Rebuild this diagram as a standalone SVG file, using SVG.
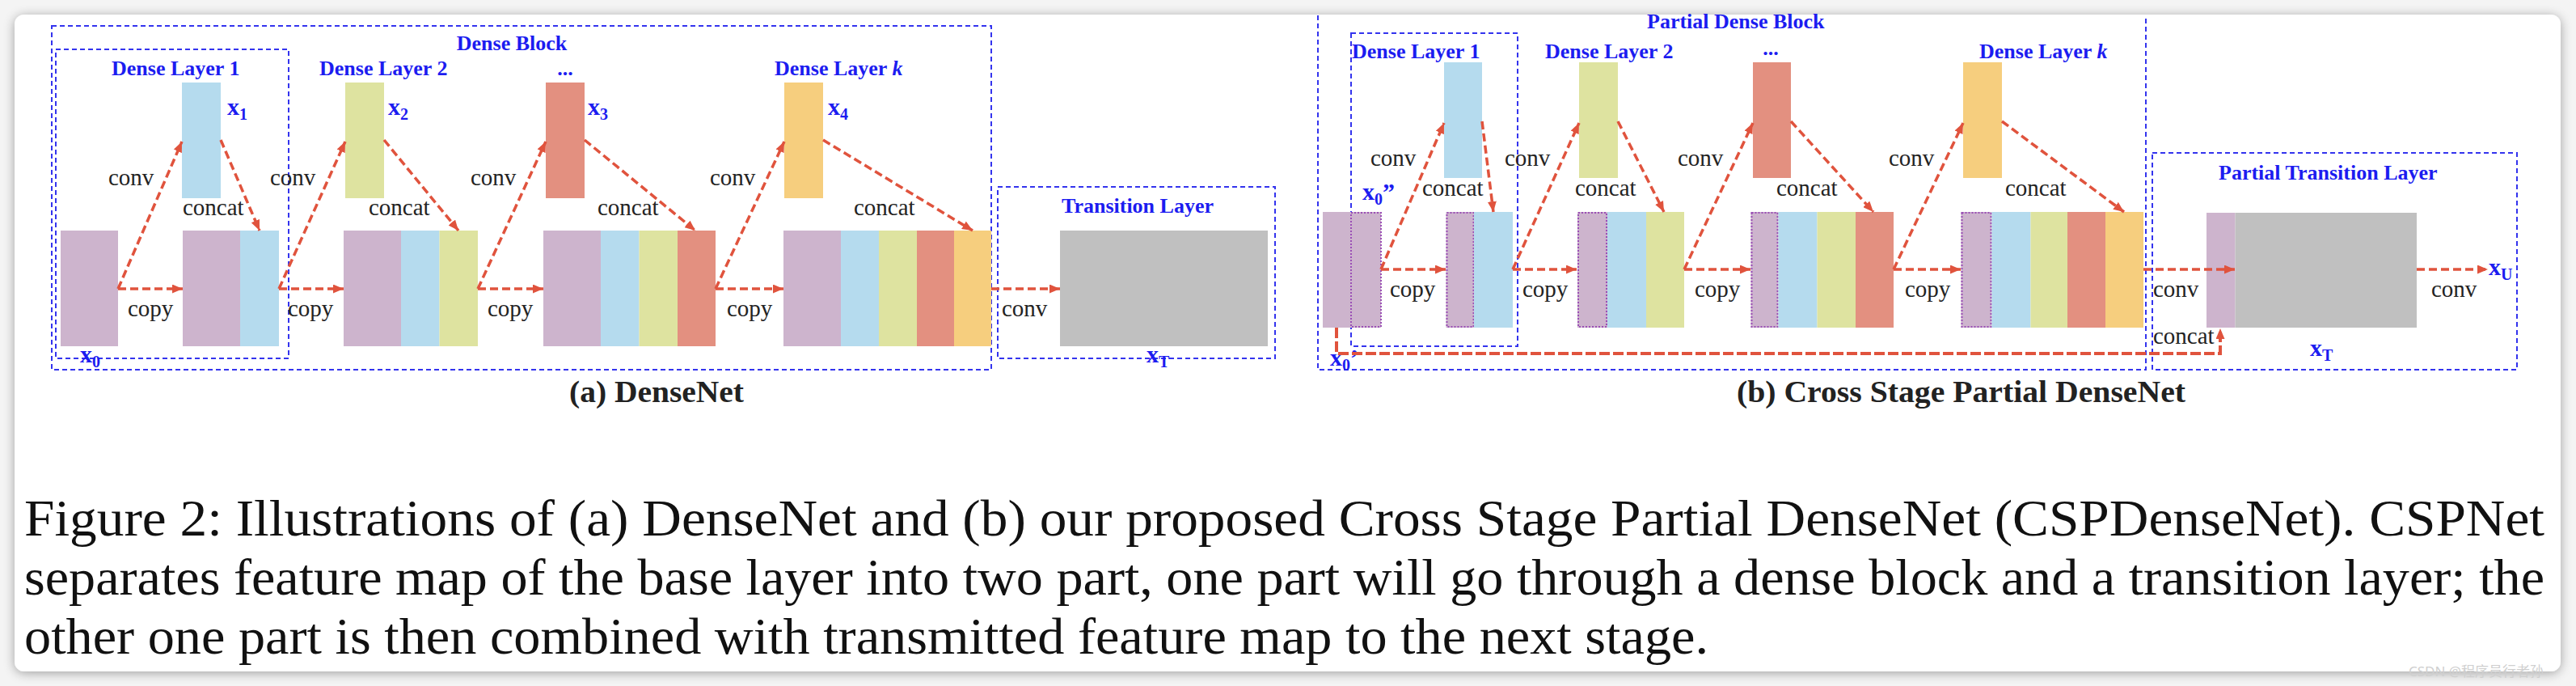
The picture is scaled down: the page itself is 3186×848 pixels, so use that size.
<svg xmlns="http://www.w3.org/2000/svg" width="3186" height="848" viewBox="0 0 3186 848">
<defs>
<style>
.t{font-family:"Liberation Serif",serif;fill:#232323;font-size:29px}
.l{font-family:"Liberation Serif",serif;font-weight:bold;fill:#1c1cf0;font-size:26px}
.v{font-family:"Liberation Serif",serif;font-weight:bold;fill:#1c1cf0;font-size:30px}
.s{font-size:20px}
.cap{font-family:"Liberation Serif",serif;font-weight:bold;fill:#222;font-size:37px}
.fig{font-family:"Liberation Serif",serif;fill:#111;font-size:64px}
.box{fill:none;stroke:#3434ee;stroke-width:2;stroke-dasharray:6 4}
.arr{fill:none;stroke:#e0533d;stroke-width:3.5;stroke-dasharray:10 5;marker-end:url(#ah)}
.arrb{fill:none;stroke:#e0533d;stroke-width:4;stroke-dasharray:13 4;marker-end:url(#ah)}
.pu{fill:#cdb4cd}.bl{fill:#b5dbee}.ye{fill:#dee3a0}.sa{fill:#e39080}.or{fill:#f6ce7e}.gr{fill:#c0c0c0}
.dot{fill:none;stroke:#9a4fb5;stroke-width:2;stroke-dasharray:2 2}
</style>
<marker id="ah" viewBox="0 0 13 11" refX="13" refY="5.5" markerWidth="13" markerHeight="11" markerUnits="userSpaceOnUse" orient="auto">
<path d="M0,0 L13,5.5 L0,11 z" fill="#e0533d"/>
</marker>
<filter id="sh" x="-2%" y="-6%" width="104%" height="112%">
<feGaussianBlur in="SourceAlpha" stdDeviation="7"/>
<feOffset dy="2"/>
<feComponentTransfer><feFuncA type="linear" slope="0.35"/></feComponentTransfer>
<feMerge><feMergeNode/><feMergeNode in="SourceGraphic"/></feMerge>
</filter>
</defs>

<rect x="0" y="0" width="3186" height="848" fill="#f4f4f4"/>
<rect id="card" x="18" y="18" width="3149" height="812" rx="12" fill="#ffffff" filter="url(#sh)"/>

<!-- ============ Panel (a) DenseNet ============ -->
<g id="a-dense-block">
<rect class="box" x="64" y="32" width="1162" height="425"/>
<text class="l" x="633" y="62" text-anchor="middle">Dense Block</text>
</g>
<g id="a-dense-layer-1">
<rect class="box" x="69" y="61" width="288" height="382"/>
<text class="l" x="138" y="93">Dense Layer 1</text>
</g>
<g id="a-x0">
<rect class="pu" x="75" y="285" width="71" height="143"/>
<text class="v" x="99" y="448">x<tspan class="s" dy="6">0</tspan></text>
</g>
<g id="a-x1">
<rect class="bl" x="225" y="102" width="48" height="143"/>
<text class="v" x="281" y="142">x<tspan class="s" dy="6">1</tspan></text>
</g>
<g id="a-b1">
<rect class="pu" x="226" y="285" width="71" height="143"/>
<rect class="bl" x="297" y="285" width="48" height="143"/>
</g>
<g id="a-dense-layer-2">
<text class="l" x="395" y="93">Dense Layer 2</text>
</g>
<g id="a-x2">
<rect class="ye" x="427" y="102" width="48" height="143"/>
<text class="v" x="480" y="142">x<tspan class="s" dy="6">2</tspan></text>
</g>
<g id="a-b2">
<rect class="pu" x="425" y="285" width="71" height="143"/>
<rect class="bl" x="496" y="285" width="47.5" height="143"/>
<rect class="ye" x="543.5" y="285" width="47.5" height="143"/>
</g>
<g id="a-dots">
<text class="l" x="699" y="93" text-anchor="middle">...</text>
</g>
<g id="a-x3">
<rect class="sa" x="675" y="102" width="48" height="143"/>
<text class="v" x="727" y="142">x<tspan class="s" dy="6">3</tspan></text>
</g>
<g id="a-b3">
<rect class="pu" x="672" y="285" width="71" height="143"/>
<rect class="bl" x="743" y="285" width="47.5" height="143"/>
<rect class="ye" x="790.5" y="285" width="47.5" height="143"/>
<rect class="sa" x="838" y="285" width="47" height="143"/>
</g>
<g id="a-dense-layer-k">
<text class="l" x="958" y="93">Dense Layer <tspan font-style="italic">k</tspan></text>
</g>
<g id="a-x4">
<rect class="or" x="970" y="102" width="48" height="143"/>
<text class="v" x="1024" y="142">x<tspan class="s" dy="6">4</tspan></text>
</g>
<g id="a-b4">
<rect class="pu" x="969" y="285" width="71" height="143"/>
<rect class="bl" x="1040" y="285" width="47" height="143"/>
<rect class="ye" x="1087" y="285" width="47" height="143"/>
<rect class="sa" x="1134" y="285" width="46" height="143"/>
<rect class="or" x="1180" y="285" width="46" height="143"/>
</g>
<g id="a-transition">
<rect class="box" x="1234" y="231" width="343" height="212"/>
<text class="l" x="1407" y="263" text-anchor="middle">Transition Layer</text>
<rect class="gr" x="1311" y="285" width="257" height="143"/>
<text class="v" x="1418" y="448">x<tspan class="s" dy="6">T</tspan></text>
</g>

<g id="a-connectors">
<line class="arr" x1="146" y1="357" x2="225" y2="175"/>
<line class="arr" x1="146" y1="357" x2="226" y2="357"/>
<line class="arr" x1="273" y1="173" x2="321" y2="285"/>
<line class="arr" x1="345" y1="357" x2="427" y2="175"/>
<line class="arr" x1="345" y1="357" x2="425" y2="357"/>
<line class="arr" x1="475" y1="173" x2="567" y2="285"/>
<line class="arr" x1="591" y1="357" x2="675" y2="175"/>
<line class="arr" x1="591" y1="357" x2="672" y2="357"/>
<line class="arr" x1="723" y1="173" x2="860" y2="285"/>
<line class="arr" x1="885" y1="357" x2="970" y2="175"/>
<line class="arr" x1="885" y1="357" x2="969" y2="357"/>
<line class="arr" x1="1018" y1="173" x2="1203" y2="285"/>
<line class="arr" x1="1226" y1="357" x2="1311" y2="357"/>
<text class="t" x="134" y="229">conv</text>
<text class="t" x="226" y="266">concat</text>
<text class="t" x="158" y="391">copy</text>
<text class="t" x="334" y="229">conv</text>
<text class="t" x="456" y="266">concat</text>
<text class="t" x="356" y="391">copy</text>
<text class="t" x="582" y="229">conv</text>
<text class="t" x="739" y="266">concat</text>
<text class="t" x="603" y="391">copy</text>
<text class="t" x="878" y="229">conv</text>
<text class="t" x="1056" y="266">concat</text>
<text class="t" x="899" y="391">copy</text>
<text class="t" x="1239" y="391">conv</text>
</g>
<text class="cap" x="704" y="497" textLength="216" lengthAdjust="spacingAndGlyphs">(a) DenseNet</text>

<!-- ============ Panel (b) CSPDenseNet ============ -->
<g id="b-partial-dense-block">
<path class="box" d="M1630,19 V457 H2654 V19"/>
<text class="l" x="2037" y="35">Partial Dense Block</text>
</g>
<g id="b-dense-layer-1">
<rect class="box" x="1671" y="41" width="206" height="387"/>
<text class="l" x="1672" y="72">Dense Layer 1</text>
</g>
<g id="b-x0">
<rect class="pu" x="1636" y="262" width="72" height="143"/>
<rect class="dot" x="1671" y="263" width="37" height="141"/>
<text class="v" x="1685" y="247">x<tspan class="s" dy="6">0</tspan><tspan dy="-6">”</tspan></text>
<text class="v" x="1645" y="452">x<tspan class="s" dy="6">0</tspan><tspan dy="-6">’</tspan></text>
</g>
<g id="b-x1">
<rect class="bl" x="1786" y="77" width="47" height="143"/>
</g>
<g id="b-b1">
<rect class="pu" x="1788.5" y="262" width="34.5" height="143"/>
<rect class="dot" x="1789.5" y="263" width="33" height="141"/>
<rect class="bl" x="1823" y="262" width="48" height="143"/>
</g>
<g id="b-dense-layer-2">
<text class="l" x="1911" y="72">Dense Layer 2</text>
</g>
<g id="b-x2">
<rect class="ye" x="1953" y="77" width="48" height="143"/>
</g>
<g id="b-b2">
<rect class="pu" x="1951" y="262" width="37" height="143"/>
<rect class="dot" x="1952" y="263" width="35" height="141"/>
<rect class="bl" x="1988" y="262" width="48" height="143"/>
<rect class="ye" x="2036" y="262" width="47" height="143"/>
</g>
<g id="b-dots">
<text class="l" x="2190" y="68" text-anchor="middle">...</text>
</g>
<g id="b-x3">
<rect class="sa" x="2168" y="77" width="47" height="143"/>
</g>
<g id="b-b3">
<rect class="pu" x="2165.5" y="262" width="34" height="143"/>
<rect class="dot" x="2166.5" y="263" width="32" height="141"/>
<rect class="bl" x="2199.5" y="262" width="48" height="143"/>
<rect class="ye" x="2247.5" y="262" width="47.5" height="143"/>
<rect class="sa" x="2295" y="262" width="47" height="143"/>
</g>
<g id="b-dense-layer-k">
<text class="l" x="2448" y="72">Dense Layer <tspan font-style="italic">k</tspan></text>
</g>
<g id="b-x4">
<rect class="or" x="2428" y="77" width="48" height="143"/>
</g>
<g id="b-b4">
<rect class="pu" x="2425.5" y="262" width="38" height="143"/>
<rect class="dot" x="2426.5" y="263" width="36" height="141"/>
<rect class="bl" x="2463.5" y="262" width="48" height="143"/>
<rect class="ye" x="2511.5" y="262" width="45.5" height="143"/>
<rect class="sa" x="2557" y="262" width="47" height="143"/>
<rect class="or" x="2604" y="262" width="47" height="143"/>
</g>
<g id="b-partial-transition">
<rect class="box" x="2662" y="189" width="451" height="268"/>
<text class="l" x="2744" y="222">Partial Transition Layer</text>
<rect class="pu" x="2729" y="263" width="35.5" height="142"/>
<rect class="gr" x="2764.5" y="263" width="224.5" height="142"/>
<text class="v" x="2857" y="440">x<tspan class="s" dy="6">T</tspan></text>
<text class="v" x="3078" y="340">x<tspan class="s" dy="6">U</tspan></text>
</g>

<g id="b-connectors">
<line class="arr" x1="1708" y1="333" x2="1786" y2="152"/>
<line class="arr" x1="1708" y1="333" x2="1788" y2="333"/>
<line class="arr" x1="1833" y1="150" x2="1847" y2="262"/>
<line class="arr" x1="1871" y1="333" x2="1953" y2="152"/>
<line class="arr" x1="1871" y1="333" x2="1950" y2="333"/>
<line class="arr" x1="2001" y1="150" x2="2058" y2="262"/>
<line class="arr" x1="2083" y1="333" x2="2168" y2="152"/>
<line class="arr" x1="2083" y1="333" x2="2165" y2="333"/>
<line class="arr" x1="2215" y1="150" x2="2317" y2="262"/>
<line class="arr" x1="2342" y1="333" x2="2428" y2="152"/>
<line class="arr" x1="2342" y1="333" x2="2425" y2="333"/>
<line class="arr" x1="2476" y1="150" x2="2627" y2="262"/>
<line class="arr" x1="2651" y1="333" x2="2764" y2="333"/>
<line class="arr" x1="2989" y1="333" x2="3077" y2="333"/>
<path class="arrb" d="M1653,405 V437 H2746 V406"/>
<text class="t" x="1695" y="205">conv</text>
<text class="t" x="1759" y="242">concat</text>
<text class="t" x="1719" y="367">copy</text>
<text class="t" x="1861" y="205">conv</text>
<text class="t" x="1948" y="242">concat</text>
<text class="t" x="1883" y="367">copy</text>
<text class="t" x="2075" y="205">conv</text>
<text class="t" x="2197" y="242">concat</text>
<text class="t" x="2096" y="367">copy</text>
<text class="t" x="2336" y="205">conv</text>
<text class="t" x="2480" y="242">concat</text>
<text class="t" x="2356" y="367">copy</text>
<text class="t" x="2663" y="367">conv</text>
<text class="t" x="3007" y="367">conv</text>
<text class="t" x="2663" y="425">concat</text>
</g>
<text class="cap" x="2148" y="497" textLength="555" lengthAdjust="spacingAndGlyphs">(b) Cross Stage Partial DenseNet</text>

<!-- ============ Caption ============ -->
<g id="caption">
<text class="fig" x="30" y="662" textLength="3117" lengthAdjust="spacingAndGlyphs">Figure 2: Illustrations of (a) DenseNet and (b) our proposed Cross Stage Partial DenseNet (CSPDenseNet). CSPNet</text>
<text class="fig" x="30" y="735" textLength="3117" lengthAdjust="spacingAndGlyphs">separates feature map of the base layer into two part, one part will go through a dense block and a transition layer; the</text>
<text class="fig" x="30" y="808" textLength="2083" lengthAdjust="spacingAndGlyphs">other one part is then combined with transmitted feature map to the next stage.</text>
</g>
<text x="2979" y="836" font-family="'Noto Sans', 'Noto Sans CJK SC', sans-serif" font-size="17" fill="#cfcfcf">CSDN @程序员行者孙</text>
</svg>
